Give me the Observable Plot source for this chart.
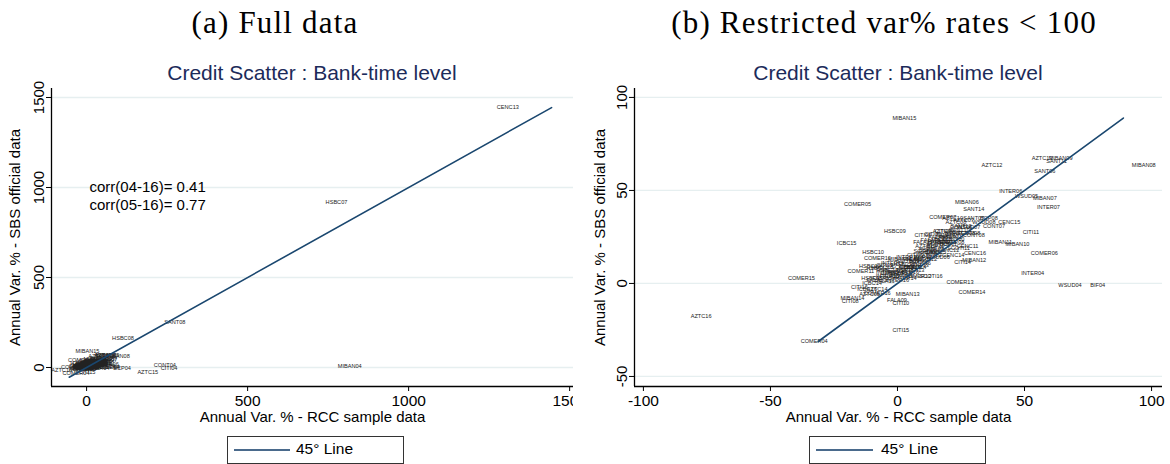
<!DOCTYPE html>
<html><head><meta charset="utf-8">
<script src="https://cdn.jsdelivr.net/npm/d3@7"></script>
<script src="https://cdn.jsdelivr.net/npm/@observablehq/plot@0.6"></script>
<style>
body{margin:0;background:#fff;}
#root{position:relative;width:1170px;height:464px;overflow:hidden;background:#fff;font-family:"Liberation Sans",Arial,sans-serif;}
.cap{position:absolute;top:5px;font-family:"Liberation Serif",serif;font-size:31px;letter-spacing:1.2px;color:#000;white-space:nowrap;transform:translateX(-50%);z-index:3;}
.ttl{position:absolute;top:61px;font-size:21px;color:#1c2b5a;white-space:nowrap;transform:translateX(-50%);line-height:24px;z-index:3;}
.panel{position:absolute;top:60px;height:370px;overflow:hidden;z-index:1;}
.leg{position:absolute;top:436px;height:28px;width:177px;border:1px solid #333;box-sizing:border-box;background:#fff;z-index:2;}
.leg .ln{position:absolute;top:12px;height:2px;background:#4a6a8c;}
.leg .tx{position:absolute;top:3px;font-size:15.5px;color:#000;white-space:nowrap;line-height:18px;}
</style></head>
<body><div id="root">
<div class="panel" id="pa" style="left:0;width:573px"></div>
<div class="panel" id="pb" style="left:585px;width:585px"></div>
<div class="cap" style="left:275px">(a) Full data</div>
<div class="cap" style="left:884px">(b) Restricted var% rates &lt; 100</div>
<div class="ttl" style="left:312px">Credit Scatter : Bank-time level</div>
<div class="ttl" style="left:898px">Credit Scatter : Bank-time level</div>
<div class="leg" style="left:227px"><div class="ln" style="left:6px;width:56px"></div><div class="tx" style="left:68px">45° Line</div></div>
<div class="leg" style="left:809px"><div class="ln" style="left:6px;width:57px"></div><div class="tx" style="left:71px">45° Line</div></div>
</div>
<script>
// Bank-year labels with annual var. % (x: RCC sample data, y: SBS official data)
const labels = [
"MIBAN15","AZTC12","AZTC13","MIBAN09","SANT11","MIBAN08","SANT06","INTER06","WSUD05","MIBAN07",
"INTER07","MIBAN06","SANT14","COMER07","AZTC10","BCP08","CENC15","CONT07","CITI11","HSBC09",
"MIBAN11","MIBAN10","COMER06","CENC16","MIBAN12","CITI14","CENC11","INTER04","COMER13","WSUD04",
"BIF04","COMER14","MIBAN13","FALA09","CITI10","CITI15","COMER15","AZTC16","COMER04","CITI16",
"MIBAN14","CITI08","HSBC12","COMER11","FALA10","AZTC05","INTER09","COMER05","ICBC15","HSBC10",
"COMER10","INTER10","CITI07","SANT10","FALA06","SCOTI05","INTER05","SCOTI16","HSBC11",
"BCP05","BCP06","BCP07","BCP09","BCP10","BCP11","BCP12","BCP13","BCP14","BCP15","BCP16",
"CONT05","CONT06","CONT08","CONT09","CONT10","CONT11","CONT12","CONT13","CONT14","CONT15","CONT16",
"SCOTI06","SCOTI07","SCOTI08","SCOTI09","SCOTI10","SCOTI11","SCOTI12","SCOTI13","SCOTI14","SCOTI15",
"INTER08","INTER11","INTER12","INTER13","INTER14","INTER15","INTER16",
"CITI05","CITI06","CITI09","CITI12","CITI13",
"FALA05","FALA07","FALA08","FALA11","FALA12","FALA13","FALA14","FALA15","FALA16",
"AZTC07","AZTC08","AZTC09","AZTC11","AZTC14",
"SANT07","SANT12","SANT15","SANT16",
"HSBC13","HSBC14","HSBC15","HSBC16",
"CENC12","CENC14","MIBAN16","COMER08","COMER12","COMER16","ICBC14","ICBC16",
"WSUD06","WSUD07","WSUD08",
"CENC13","HSBC07","SANT08","HSBC08","MIBAN04","CONT04","CITI04","AZTC15","BCP04"
];
const rccVar = [
2.7,37.2,56.9,64.2,62.6,96.9,58,44.6,50.8,58,
59.4,27.3,30,17.8,21.7,36,44,38,52.5,-1,
40.5,47.2,57.8,30.5,30.2,25.6,27.6,53.2,24.6,67.9,
78.8,29.3,4,-0.2,1.3,1.3,-37.8,-77.3,-32.8,-15,
-17.7,-18.6,-10.9,-14.4,-8.3,-11,-3.9,-15.7,-20,-9.6,
-7.9,4,13.8,24.3,15.8,10.9,-2,13.2,2.6,
12,18,22,8,15,20,10,6,4,3,5,
14,25,30,9,22,19,13,8,7,5,2,
16,20,28,4,17,24,11,6,2,1,
26,21,12,-2,3,-4,0,
10,18,-5,14,7,
13,19,16,10,6,-3,0,-6,-5,
26,23,18,11,-8,
30,25,15,9,
-8,-4,-10,-6,
20,22,1,21,8,-8,-10,-12,
16,28,34,
1308,776,274,113,817,243,256,190,110
];
const sbsVar = [
88.9,63.4,67.4,67.4,65.8,63.4,60.4,49.6,46.9,45.9,
41,43.5,40,35.7,35.3,35.3,33,30.8,27.6,28,
22.2,21.1,16.3,16,12.4,11.5,20,5.5,0.7,-0.9,
-0.9,-4.7,-5.7,-9.1,-10.6,-25,2.9,-17.7,-31.2,-2,
-7.9,-9.5,9.1,6.6,2,-6,6,42.5,21.7,16.8,
13.5,14,26.7,28.8,22.7,17.4,5.5,3.8,10.6,
18,24,27,12,20,21,14,9,8,7,6,
19,30,26,13,24,22,15,10,9,9,4,
21,26,27,12,22,19,13,7,9,5,
27,25,16,11,3,4,2,
26,28,10,17,15,
23,26,25,22,13,4,6,3,1,
34,33,28,20,-3,
35,31,17,11,
8,7,3,9,
18,15,13,22,4,-5,0,-3,
14,30,33,
1444,917,250,161,5,11,-5,-28,-5
];
const restrictLimit = 100;
// 45-degree reference line ranges (y = x)
const lineRangeA = [-54, 1444];
const lineRangeB = [-31.2, 88.9];
// axes
const xTicksA = [0, 500, 1000, 1500], yTicksA = [0, 500, 1000, 1500];
const xDomainA = [-109, 1512], yDomainA = [-105.6, 1550];
const xTicksB = [-100, -50, 0, 50, 100], yTicksB = [-50, 0, 50, 100];
const xDomainB = [-103.5, 104.3], yDomainB = [-55.4, 104.8];
const xTitle = "Annual Var. % - RCC sample data";
const yTitle = "Annual Var. % - SBS official data";
const corrText = ["corr(04-16)= 0.41", "corr(05-16)= 0.77"];
const corrY = [1000, 900], corrX = 9;

const full = labels.map((l, i) => ({label: l, x: rccVar[i], y: sbsVar[i]}));
const restricted = full.filter(d => Math.abs(d.x) < restrictLimit && Math.abs(d.y) < restrictLimit);

function panel(data, lineRange, xDom, yDom, xTicks, yTicks, width, ml, mr, extra) {
  return Plot.plot({
    width, height: 370, marginLeft: ml, marginRight: mr, marginTop: 28, marginBottom: 44,
    style: {fontFamily: "Liberation Sans, Arial, sans-serif", fontSize: "15px", background: "white", color: "#000"},
    x: {domain: xDom},
    y: {domain: yDom},
    marks: [
      Plot.gridY(yTicks, {stroke: "#e6eff0", strokeOpacity: 1, strokeWidth: 1.3}),
      Plot.axisX(xTicks, {tickSize: 5, tickPadding: 3, fontSize: 15.5, tickFormat: d => String(d), label: null}),
      Plot.axisY(yTicks, {tickSize: 5, tickPadding: 3, tickRotate: -90, fontSize: 15, tickFormat: d => String(d), label: null}),
      Plot.text([xTitle], {text: d => d, frameAnchor: "bottom", textAnchor: "middle", lineAnchor: "middle", dy: 31, fontSize: 15, fill: "#000"}),
      Plot.text([yTitle], {text: d => d, frameAnchor: "left", textAnchor: "middle", lineAnchor: "middle", dx: -(ml - 15), rotate: -90, fontSize: 15, fill: "#000"}),
      Plot.ruleX([xDom[0]], {stroke: "#000", strokeWidth: 1.3}),
      Plot.ruleY([yDom[0]], {stroke: "#000", strokeWidth: 1.3}),
      Plot.text(data, {x: "x", y: "y", text: "label", fontSize: 5.6, fill: "#222"}),
      Plot.line(lineRange.map(v => ({v})), {x: "v", y: "v", stroke: "#1a476f", strokeWidth: 1.6}),
      ...extra
    ]
  });
}

const corr = corrText.map((t, i) => ({t, y: corrY[i]}));
document.getElementById("pa").append(panel(full, lineRangeA, xDomainA, yDomainA, xTicksA, yTicksA, 573, 51, 0,
  [Plot.text(corr, {x: () => corrX, y: "y", text: "t", textAnchor: "start", fontSize: 15, fill: "#000"})]));
document.getElementById("pb").append(panel(restricted, lineRangeB, xDomainB, yDomainB, xTicksB, yTicksB, 585, 49, 8, []));
</script>
</body></html>
